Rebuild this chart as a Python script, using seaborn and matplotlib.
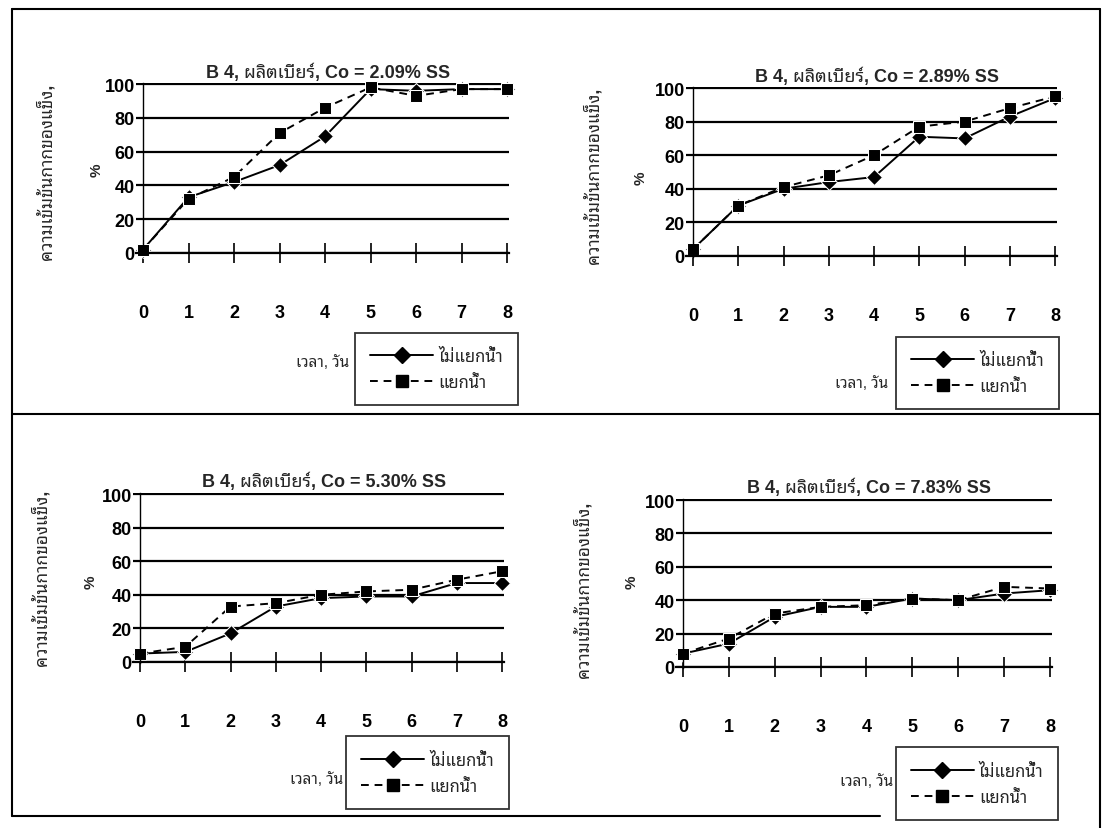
import matplotlib
matplotlib.use("Agg")
import numpy as np
import pandas as pd
import seaborn as sns
import matplotlib.pyplot as plt
from matplotlib import font_manager as fm
from matplotlib.ft2font import FT2Font
from matplotlib.lines import Line2D

# ---------------- data ----------------
days = [0, 1, 2, 3, 4, 5, 6, 7, 8]
titles = ["B 4, ผลิตเบียร์, Co = 2.09% SS",
          "B 4, ผลิตเบียร์, Co = 2.89% SS",
          "B 4, ผลิตเบียร์, Co = 5.30% SS",
          "B 4, ผลิตเบียร์, Co = 7.83% SS"]
series_names = ["ไม่แยกน้ำ", "แยกน้ำ"]
no_sep_209 = [2, 33, 42, 52, 69, 97, 96, 97, 97]
sep_209 = [2, 32, 45, 71, 86, 98, 93, 97, 97]
no_sep_289 = [4, 30, 40, 44, 47, 71, 70, 83, 94]
sep_289 = [4, 30, 41, 48, 60, 77, 80, 88, 95]
no_sep_530 = [5, 6, 17, 33, 38, 39, 39, 47, 47]
sep_530 = [5, 9, 33, 35, 40, 42, 43, 49, 54]
no_sep_783 = [8, 14, 30, 36, 36, 41, 40, 44, 46]
sep_783 = [8, 17, 32, 36, 37, 41, 40, 48, 47]
yticks = [0, 20, 40, 60, 80, 100]
ylabel = "ความเข้มข้นกากของแข็ง,"
xlabel = "เวลา, วัน"

# ---------------- fonts ----------------
def find_thai_family():
    found = []
    for path in fm.findSystemFonts():
        try:
            ft = FT2Font(path)
            cmap = ft.get_charmap()
        except Exception:
            continue
        if 0x0E01 in cmap and 0x0E49 in cmap:
            try:
                fm.fontManager.addfont(path)
            except Exception:
                pass
            found.append(ft.family_name)
    prefs = ["Noto Sans Thai", "Loma", "Garuda", "Tlwg Typo", "Sarabun", "Kinnari", "Norasi"]
    for p in prefs:
        for f in found:
            if f.startswith(p):
                return f
    return found[0] if found else None

sns.set_theme(style="white")
thai = find_thai_family()
fams = ["Liberation Sans"] + ([thai] if thai else []) + ["DejaVu Sans"]
plt.rcParams["font.family"] = fams

W, H = 1107, 829
fig = plt.figure(figsize=(W / 100, H / 100), dpi=100)
fig.patch.set_facecolor("white")

def px_axes(left, top, right, bottom):
    return fig.add_axes([left / W, 1 - bottom / H, (right - left) / W, (bottom - top) / H])

panels = [
    dict(ax=(136.2, 84.2, 509.3, 254.8), data=(no_sep_209, sep_209), title_y=78,
         ylab=(45, 172), pct=(97, 170), xl=(349, 363), leg=(355, 327, 518, 413)),
    dict(ax=(686.2, 88.2, 1057.3, 257.8), data=(no_sep_289, sep_289), title_y=82,
         ylab=(592, 176), pct=(641, 178), xl=(888, 384), leg=(892, 333, 1063, 415)),
    dict(ax=(133.2, 494.2, 504.3, 663.8), data=(no_sep_530, sep_530), title_y=487,
         ylab=(40, 578), pct=(91, 582), xl=(343, 780), leg=(350, 731, 505, 816)),
    dict(ax=(676.1, 500.2, 1052.3, 668.8), data=(no_sep_783, sep_783), title_y=493,
         ylab=(582, 590), pct=(632, 582), xl=(893, 782), leg=(897, 742, 1057, 827)),
]

for p, title in zip(panels, titles):
    ax = px_axes(*p["ax"])
    a, b = p["data"]
    df = pd.DataFrame({"day": days * 2, "val": a + b,
                       "series": [series_names[0]] * len(days) + [series_names[1]] * len(days)})
    sns.lineplot(data=df, x="day", y="val", style="series",
                 markers={series_names[0]: "D", series_names[1]: "s"},
                 dashes={series_names[0]: "", series_names[1]: (4, 3)},
                 color="black", markersize=8, linewidth=1.4, legend=False,
                 clip_on=False, ax=ax)
    ax.set_xlim(-0.15, 8.05)
    ax.set_ylim(-0.5, 100.5)
    ax.set_xticks(days)
    ax.set_xticklabels([str(d) for d in days])
    ax.set_yticks(yticks)
    ax.set_yticklabels([str(v) for v in yticks])
    ax.set_facecolor("none")
    for s in ["top", "right"]:
        ax.spines[s].set_visible(False)
    ax.spines["left"].set_position(("data", 0))
    ax.spines["bottom"].set_position(("data", 0))
    ax.spines["left"].set_color("black")
    ax.spines["bottom"].set_color("black")
    ax.spines["left"].set_linewidth(1.0)
    ax.spines["bottom"].set_linewidth(1.6)
    ax.yaxis.grid(True, color="black", linewidth=1.6)
    ax.xaxis.grid(False)
    ax.tick_params(axis="x", direction="inout", length=14, width=1.2, pad=30,
                   labelsize=13, colors="black", bottom=True)
    ax.tick_params(axis="y", length=0, pad=6, labelsize=13, colors="black")
    for lab in ax.get_xticklabels() + ax.get_yticklabels():
        lab.set_fontweight("bold")
    ax.set_xlabel("")
    ax.set_ylabel("")
    cx = (p["ax"][0] + p["ax"][2]) / 2 + 5
    fig.text(cx / W, 1 - p["title_y"] / H, title, ha="center", va="baseline",
             fontsize=13, fontweight="bold")
    fig.text(p["ylab"][0] / W, 1 - p["ylab"][1] / H, ylabel, rotation=90,
             ha="center", va="center", fontsize=12.5, fontweight="bold")
    fig.text(p["pct"][0] / W, 1 - p["pct"][1] / H, "%", rotation=90,
             ha="center", va="center", fontsize=11, fontweight="bold")
    fig.text(p["xl"][0] / W, 1 - p["xl"][1] / H, xlabel, ha="right", va="center",
             fontsize=11)
    l, t, r, btm = p["leg"]
    handles = [Line2D([], [], color="black", marker="D", markersize=8, linewidth=1.4),
               Line2D([], [], color="black", marker="s", markersize=8, linewidth=1.4,
                      linestyle=(0, (4, 3)))]
    leg = fig.legend(handles, series_names, loc="center",
                     bbox_to_anchor=((l + r) / 2 / W, 1 - (t + btm) / 2 / H),
                     frameon=True, fancybox=False, edgecolor="black", fontsize=12,
                     handlelength=3.8, borderpad=0.9, labelspacing=0.6,
                     handletextpad=0.3)
    leg.get_frame().set_linewidth(1.3)

# page frame lines
def hline(y, x0, x1):
    fig.add_artist(Line2D([x0 / W, x1 / W], [1 - y / H, 1 - y / H],
                          transform=fig.transFigure, color="black", linewidth=1.5))

def vline(x, y0, y1):
    fig.add_artist(Line2D([x / W, x / W], [1 - y0 / H, 1 - y1 / H],
                          transform=fig.transFigure, color="black", linewidth=1.5))

hline(10, 12, 1100)
hline(415, 12, 1100)
hline(817, 12, 880)
vline(12, 10, 817)
vline(1100, 10, 829)

fig.savefig("out.png", dpi=100, facecolor="white")
